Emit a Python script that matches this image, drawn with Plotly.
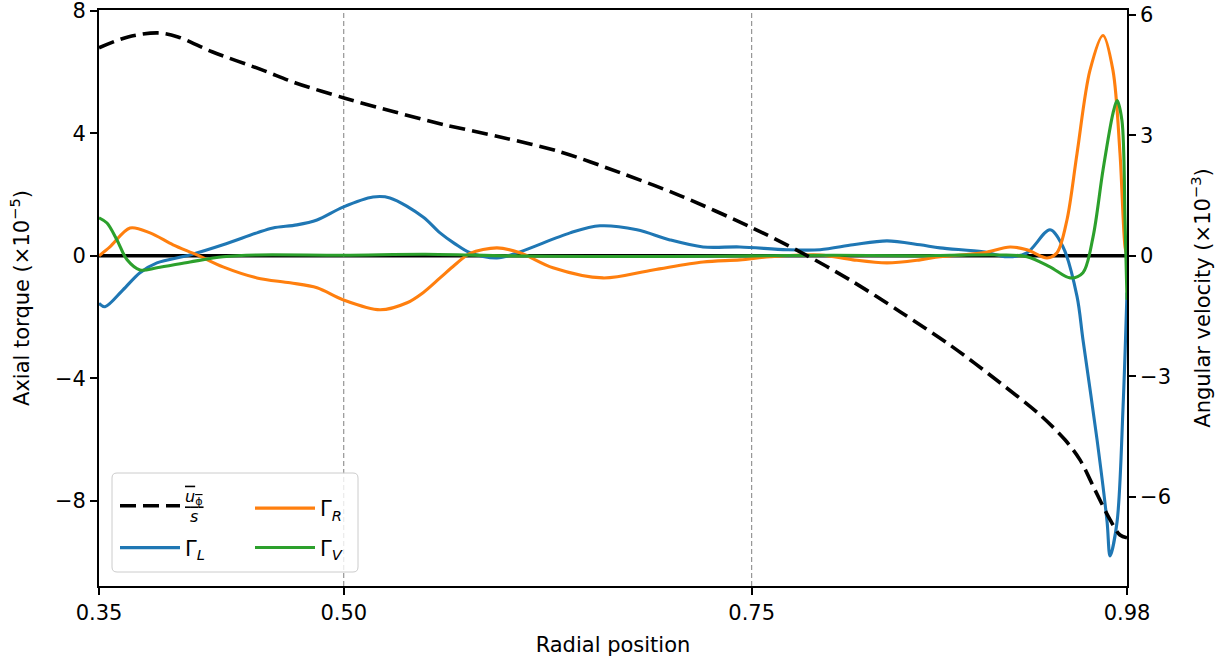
import plotly.graph_objects as go

# ---------------- data ----------------
x_ticks = [0.35, 0.50, 0.75, 0.98]
x_tick_labels = ["0.35", "0.50", "0.75", "0.98"]
y_left_ticks = [-8, -4, 0, 4, 8]
y_right_ticks = [-6, -3, 0, 3, 6]
ref_lines_x = [0.50, 0.75]

# mean angular velocity u_phi / s  (right axis, x1e-3)
r_omega = [0.35, 0.3678, 0.3862, 0.3984, 0.4193, 0.4499, 0.4701, 0.5002, 0.5314,
           0.5620, 0.5958, 0.6325, 0.6693, 0.7060, 0.7502, 0.7796, 0.8102, 0.8409,
           0.8715, 0.9022, 0.9267, 0.9420, 0.9512, 0.9604, 0.9696, 0.9757, 0.98]
omega = [5.18, 5.45, 5.55, 5.45, 5.08, 4.63, 4.31, 3.93, 3.58,
         3.26, 2.96, 2.59, 2.07, 1.50, 0.70, 0.10, -0.60, -1.39,
         -2.22, -3.16, -3.96, -4.58, -5.08, -5.83, -6.57, -6.95, -7.02]

# Lorentz torque Gamma_L (left axis, x1e-5)
r_L = [0.35, 0.3537, 0.3647, 0.3751, 0.3855, 0.4058, 0.4260, 0.4468, 0.4566, 0.4713,
       0.4836, 0.4995, 0.5179, 0.5283, 0.5486, 0.5590, 0.5680, 0.5774, 0.5939, 0.6080,
       0.6387, 0.6570, 0.6797, 0.6999, 0.7202, 0.7428, 0.7716, 0.7919, 0.8121, 0.8329,
       0.8532, 0.8654, 0.8918, 0.9065, 0.9187, 0.9328, 0.9408, 0.9494, 0.9530, 0.9616,
       0.9678, 0.9696, 0.9739, 0.9776, 0.98]
gamma_L = [-1.55, -1.66, -1.11, -0.55, -0.23, 0.03, 0.36, 0.75, 0.91, 1.01,
           1.17, 1.59, 1.92, 1.89, 1.27, 0.75, 0.40, 0.10, -0.07, 0.13,
           0.75, 0.98, 0.85, 0.52, 0.29, 0.29, 0.20, 0.20, 0.36, 0.49,
           0.36, 0.26, 0.13, -0.03, 0.10, 0.85, 0.29, -1.33, -2.73, -5.98,
           -8.68, -9.79, -8.68, -4.91, -1.2]

# Reynolds torque Gamma_R
r_R = [0.35, 0.3567, 0.3690, 0.3813, 0.3954, 0.4101, 0.4260, 0.4468, 0.4671, 0.4836,
       0.4995, 0.5222, 0.5388, 0.5486, 0.5590, 0.5680, 0.5774, 0.5939, 0.6080, 0.6282,
       0.6589, 0.6895, 0.7202, 0.7428, 0.7612, 0.7919, 0.8121, 0.8329, 0.8532, 0.8654,
       0.8918, 0.9083, 0.9187, 0.9310, 0.9371, 0.9432, 0.9494, 0.9573, 0.9653, 0.9714,
       0.9757, 0.9788, 0.98]
gamma_R = [0.0, 0.29, 0.91, 0.75, 0.36, 0.03, -0.36, -0.72, -0.88, -1.04,
           -1.43, -1.76, -1.53, -1.20, -0.72, -0.30, 0.08, 0.26, 0.10, -0.39,
           -0.72, -0.46, -0.20, -0.13, -0.03, 0.03, -0.13, -0.23, -0.13, -0.03,
           0.10, 0.29, 0.20, -0.07, 0.10, 1.17, 3.35, 6.05, 7.19, 6.05,
           3.35, 0.29, 0.0]

# Viscous torque Gamma_V
r_V = [0.35, 0.3549, 0.3610, 0.3672, 0.3751, 0.3855, 0.4058, 0.4260, 0.4468, 0.50,
       0.55, 0.60, 0.65, 0.70, 0.75, 0.80, 0.85, 0.8715, 0.9022, 0.9187,
       0.9328, 0.9451, 0.9530, 0.9592, 0.9653, 0.9714, 0.9739, 0.9769, 0.9788, 0.98]
gamma_V = [1.24, 1.07, 0.52, -0.13, -0.46, -0.39, -0.20, -0.03, 0.03, 0.02,
           0.05, 0.0, -0.02, -0.02, 0.0, 0.02, 0.0, 0.02, 0.03, -0.03,
           -0.36, -0.72, -0.55, 0.62, 2.80, 4.65, 5.07, 4.42, 1.17, -1.43]

# ---------------- figure ----------------
FONT = "DejaVu Sans"
BLUE, ORANGE, GREEN = "#1f77b4", "#ff7f0e", "#2ca02c"
LW = 3.1

fig = go.Figure()

fig.add_trace(go.Scatter(x=r_L, y=gamma_L, mode="lines", name="Γ<sub><i>L</i></sub>",
                         line=dict(color=BLUE, width=LW, shape="spline", smoothing=0.9),
                         legend="legend2"))
fig.add_trace(go.Scatter(x=r_R, y=gamma_R, mode="lines", name="Γ<sub><i>R</i></sub>",
                         line=dict(color=ORANGE, width=LW, shape="spline", smoothing=0.9),
                         legend="legend3", legendgroup="R"))
fig.add_trace(go.Scatter(x=r_V, y=gamma_V, mode="lines", name="Γ<sub><i>V</i></sub>",
                         line=dict(color=GREEN, width=LW, shape="spline", smoothing=0.9),
                         legend="legend3", legendgroup="V"))
fig.add_trace(go.Scatter(x=r_omega, y=omega, mode="lines", yaxis="y2",
                         name="<span style='text-decoration:overline'><i>u</i><sub>ϕ</sub></span>"
                              "<br><span style='text-decoration:overline'>\u00a0<i>s</i>\u00a0</span>",
                         line=dict(color="black", width=3.6, dash="16px,7px", shape="spline", smoothing=0.9),
                         legend="legend"))

# zero line and reference verticals
fig.add_hline(y=0, line=dict(color="black", width=3.5), layer="below")
for xv in ref_lines_x:
    fig.add_vline(x=xv, line=dict(color="#7f7f7f", width=1, dash="5px,3px"), layer="below")

# legend frame (rounded box)
x0, x1 = (112 - 99) / 1028, (358 - 99) / 1028
y0, y1 = (586 - 572) / 576, (586 - 473) / 576
rx, ry = 5 / 1028, 5 / 576
path = (f"M {x0+rx},{y0} L {x1-rx},{y0} Q {x1},{y0} {x1},{y0+ry} "
        f"L {x1},{y1-ry} Q {x1},{y1} {x1-rx},{y1} L {x0+rx},{y1} Q {x0},{y1} {x0},{y1-ry} "
        f"L {x0},{y0+ry} Q {x0},{y0} {x0+rx},{y0} Z")
fig.add_shape(type="path", path=path, xref="paper", yref="paper",
              fillcolor="rgba(255,255,255,0.8)", line=dict(color="#cccccc", width=1), layer="above")

axis_common = dict(showline=True, linecolor="black", linewidth=1.7, ticks="outside",
                   ticklen=7, tickwidth=1.7, tickcolor="black", showgrid=False, zeroline=False,
                   ticklabeloverflow="allow",
                   tickfont=dict(family=FONT, size=21, color="black"))

fig.update_layout(
    width=1225, height=660,
    margin=dict(l=99, r=98, t=10, b=74, autoexpand=False),
    paper_bgcolor="white", plot_bgcolor="white",
    font=dict(family=FONT, size=21, color="black"),
    showlegend=True,
    xaxis=dict(range=[0.35, 0.98], tickvals=x_ticks, ticktext=x_tick_labels, mirror=True,
               title=dict(text="Radial position", font=dict(family=FONT, size=21), standoff=13),
               **axis_common),
    yaxis=dict(range=[-10.77, 8.02], tickvals=y_left_ticks,
               title=dict(text="Axial torque (×10<sup>−5</sup>)", font=dict(family=FONT, size=21), standoff=20),
               **axis_common),
    yaxis2=dict(range=[-8.22, 6.12], tickvals=y_right_ticks, overlaying="y", side="right",
                title=dict(text="Angular velocity (×10<sup>−3</sup>)", font=dict(family=FONT, size=21), standoff=25),
                **axis_common),
    legend=dict(x=(115 - 99) / 1028, y=(586 - 506) / 576, xanchor="left", yanchor="middle",
                bgcolor="rgba(0,0,0,0)", font=dict(family=FONT, size=16), itemwidth=60),
    legend2=dict(x=(115 - 99) / 1028, y=(586 - 548) / 576, xanchor="left", yanchor="middle",
                 bgcolor="rgba(0,0,0,0)", font=dict(family=FONT, size=21), itemwidth=60),
    legend3=dict(x=(250 - 99) / 1028, y=(586 - 528) / 576, xanchor="left", yanchor="middle",
                 bgcolor="rgba(0,0,0,0)", font=dict(family=FONT, size=21), itemwidth=60,
                 traceorder="grouped", tracegroupgap=9),
)

fig.write_html("out.html", config={"displayModeBar": False},
               post_script="document.body.style.margin='0';document.body.style.padding='0';"
                           "document.body.style.overflow='hidden';")
